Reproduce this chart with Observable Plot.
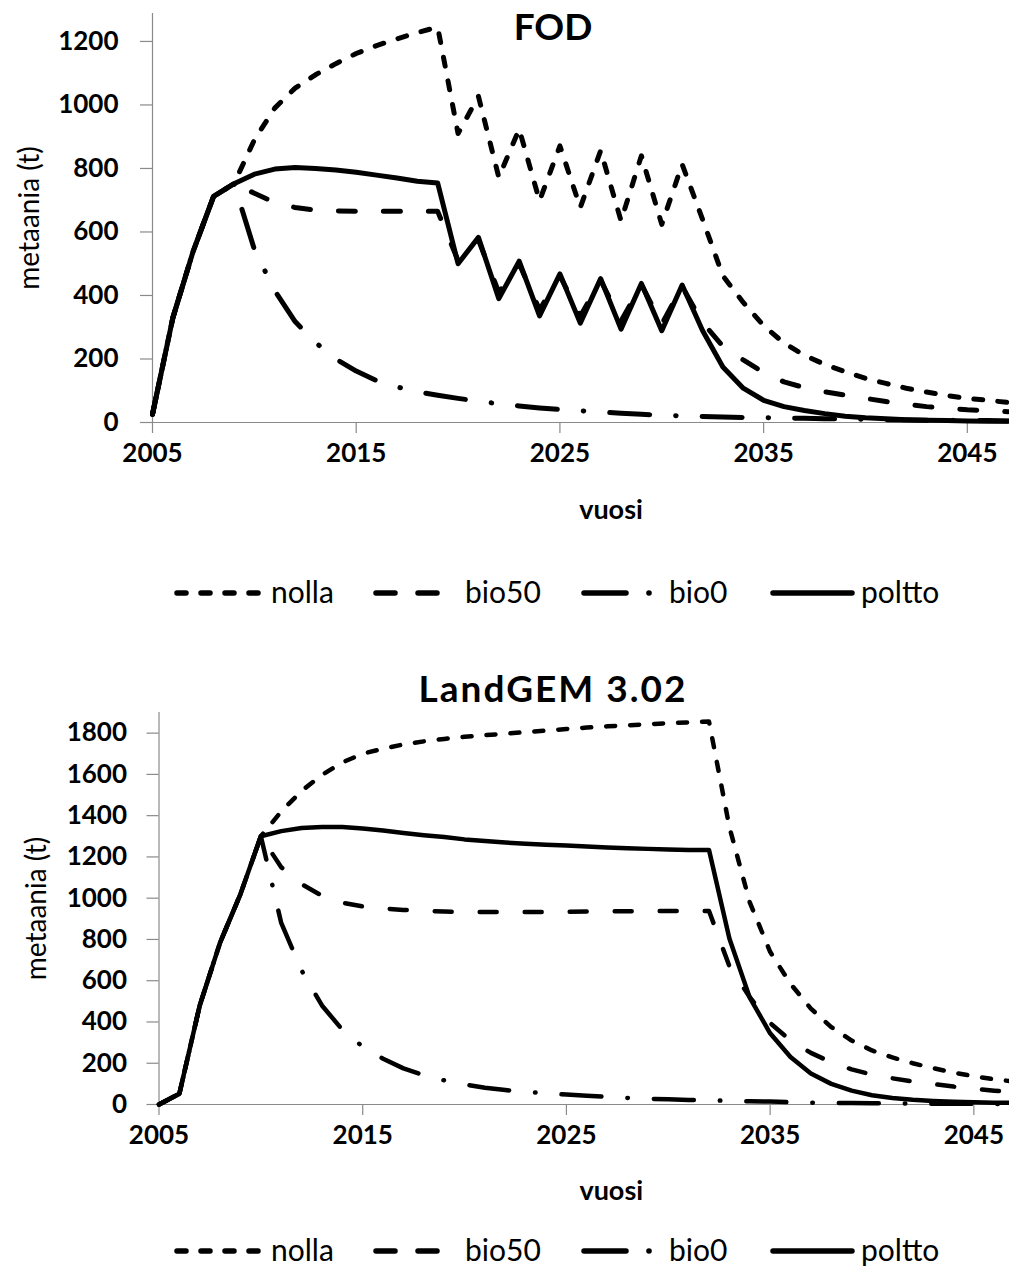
<!DOCTYPE html>
<html>
<head>
<meta charset="utf-8">
<script src="https://cdn.jsdelivr.net/npm/d3@7"></script>
<script src="https://cdn.jsdelivr.net/npm/@observablehq/plot@0.6"></script>
<style>
  html, body { margin: 0; padding: 0; background: #fff; }
  #page { position: relative; width: 1009px; height: 1269px; overflow: hidden; background: #fff; font-family: Lato, "Open Sans", sans-serif; }
  .abs { position: absolute; left: 0; }
</style>
</head>
<body>
<div id="page"></div>
<script>
// ---------- DATA ----------
const years = [2005,2006,2007,2008,2009,2010,2011,2012,2013,2014,2015,2016,2017,2018,2019,2020,
  2021,2022,2023,2024,2025,2026,2027,2028,2029,2030,2031,2032,2033,2034,2035,2036,2037,2038,2039,2040,
  2041,2042,2043,2044,2045,2046,2047];
const seriesNames = ["nolla", "bio50", "bio0", "poltto"];

// FOD (top chart), metaania (t)
const fodNolla  = [26,330,540,712,752,890,990,1053,1095,1130,1162,1187,1208,1228,1245,910,
  1027,772,924,698,871,677,856,635,840,624,813,640,462,378,305,250,212,183,160,139,
  123,108,96,85,76,70,63];
const fodBio50  = [26,330,540,712,752,722,693,677,669,666,665,665,665,665,665,510,
  575,410,500,355,462,335,448,320,434,310,428,315,240,197,157,128,110,97,86,76,
  66,57,50,45,40,37,34];
const fodBio0   = [26,330,540,712,752,545,415,318,252,200,162,132,112,97,86,76,
  67,59,52,46,41,37,33,29,26,23,21,19,17,16,15,14,13,12,11,10,
  9,8,7,7,6,6,5];
const fodPoltto = [26,330,540,712,752,782,798,803,800,795,788,779,770,760,754,500,
  583,390,508,336,468,313,453,294,438,289,433,290,175,108,70,50,38,28,20,15,
  12,9,7,6,5,4,4];

// LandGEM 3.02 (bottom chart), metaania (t)
const lgNolla  = [0,52,480,785,1020,1300,1420,1520,1597,1658,1700,1725,1745,1760,1772,1782,
  1790,1797,1805,1812,1820,1827,1833,1838,1843,1848,1852,1856,1345,980,740,585,465,375,310,262,
  228,200,176,155,137,122,111];
const lgBio50  = [0,52,480,785,1020,1300,1150,1068,1012,978,960,950,943,938,935,933,
  933,933,933,933,934,935,936,937,938,938,938,938,670,520,395,310,250,205,170,145,
  127,112,99,87,76,67,60];
const lgBio0   = [0,52,480,785,1020,1300,880,650,480,362,280,222,175,142,117,97,
  81,70,61,54,48,42,37,32,28,25,22,20,18,16,14,11,9,8,7,6,
  5,5,4,4,3,3,2];
const lgPoltto = [0,52,480,785,1020,1300,1325,1340,1345,1345,1338,1328,1316,1305,1296,1285,
  1277,1270,1264,1259,1255,1250,1246,1242,1239,1236,1234,1233,805,518,345,230,150,100,67,45,
  32,23,17,13,11,9,8];

const xTicks = [2005, 2015, 2025, 2035, 2045];
const fodYTicks = [0, 200, 400, 600, 800, 1000, 1200];
const lgYTicks = [0, 200, 400, 600, 800, 1000, 1200, 1400, 1600, 1800];
const titles = ["FOD", "LandGEM 3.02"];
const xLabel = "vuosi";
const yLabel = "metaania (t)";

(function () {
// ---------- STYLE ----------
const gray = "#8a8a8a";
const dashes = { nolla: "9,15", bio50: "17,28", bio0: "40,26,0.5,26", poltto: null };
const FONT = "Lato, 'Open Sans', sans-serif";

function rows(arrays) {
  const out = [];
  seriesNames.forEach((s, i) => {
    years.forEach((y, j) => out.push({ series: s, year: y, value: arrays[i][j] }));
  });
  return out;
}

function chart(cfg) {
  const data = rows(cfg.values);
  const lineMarks = seriesNames.map(s => Plot.lineY(data.filter(d => d.series === s), {
    x: "year", y: "value",
    stroke: "black", strokeWidth: cfg.lw,
    strokeDasharray: dashes[s] || undefined,
    strokeLinecap: "round", strokeLinejoin: "round"
  }));
  return Plot.plot({
    width: 1009, height: cfg.height,
    marginLeft: cfg.ml, marginRight: 0, marginTop: cfg.mt, marginBottom: cfg.mb,
    x: { domain: [2005, cfg.xMax] },
    y: { domain: [0, cfg.yMax] },
    style: { fontFamily: FONT, fontSize: "26px", fontWeight: "bold", color: "black", background: "white", overflow: "visible" },
    marks: [
      Plot.ruleY([0], { stroke: gray, strokeWidth: 1.2 }),
      Plot.ruleX([2005], { stroke: gray, strokeWidth: 1.2 }),
      Plot.axisX({ ticks: xTicks, tickFormat: d => String(d), tickSize: 11, tickPadding: 10, stroke: gray, strokeWidth: 1.2, fill: "black", label: null }),
      Plot.axisY({ ticks: cfg.yTicks, tickFormat: d => String(d), tickSize: 12, tickPadding: cfg.ypad, stroke: gray, strokeWidth: 1.2, fill: "black", label: null }),
      ...lineMarks,
      Plot.text([yLabel], { frameAnchor: "left", dx: cfg.ylabDx, rotate: -90, text: d => d, textAnchor: "middle", lineAnchor: "middle", fontSize: 28, fontWeight: "normal", fill: "black" }),
      Plot.text([xLabel], { frameAnchor: "bottom", dx: cfg.xlabDx, dy: cfg.xlabDy, text: d => d, textAnchor: "middle", lineAnchor: "middle", fontSize: 27, fontWeight: "bold", fill: "black" })
    ]
  });
}

const page = document.getElementById("page");

const topChart = chart({
  values: [fodNolla, fodBio50, fodBio0, fodPoltto],
  height: 530, ml: 152, mt: 13, mb: 108, xMax: 2047.07, yMax: 1288, yTicks: fodYTicks,
  lw: 5, ypad: 22, ylabDx: -122, xlabDx: 30, xlabDy: 88
});
topChart.classList.add("abs"); topChart.style.top = "0px";
page.appendChild(topChart);

const bottomChart = chart({
  values: [lgNolla, lgBio50, lgBio0, lgPoltto],
  height: 520, ml: 158.5, mt: 12, mb: 116, xMax: 2046.75, yMax: 1900, yTicks: lgYTicks,
  lw: 4.5, ypad: 20, ylabDx: -121.5, xlabDx: 27, xlabDy: 87
});
bottomChart.classList.add("abs"); bottomChart.style.top = "700px";
page.appendChild(bottomChart);

// ---------- Titles & legends overlay ----------
const ov = d3.create("svg").attr("width", 1009).attr("height", 1269)
  .attr("class", "abs").style("top", "0px").style("pointer-events", "none")
  .style("font-family", FONT);

ov.append("text").attr("x", 553).attr("y", 40).attr("text-anchor", "middle")
  .attr("font-size", 37).attr("font-weight", "bold").text(titles[0]);
ov.append("text").attr("x", 553).attr("y", 702).attr("text-anchor", "middle")
  .attr("font-size", 37).attr("font-weight", "bold").attr("letter-spacing", 2).text(titles[1]);

function legend(yLine, yBase) {
  const g = ov.append("g").attr("stroke", "black").attr("stroke-width", 5.5).attr("stroke-linecap", "round").attr("fill", "none");
  g.append("line").attr("x1", 177).attr("x2", 261).attr("y1", yLine).attr("y2", yLine).attr("stroke-dasharray", "9,15");
  g.append("line").attr("x1", 376).attr("x2", 437).attr("y1", yLine).attr("y2", yLine).attr("stroke-dasharray", "19,23");
  g.append("line").attr("x1", 584).attr("x2", 626).attr("y1", yLine).attr("y2", yLine);
  g.append("circle").attr("cx", 649).attr("cy", yLine).attr("r", 2.8).attr("fill", "black").attr("stroke", "none");
  g.append("line").attr("x1", 773).attr("x2", 852).attr("y1", yLine).attr("y2", yLine);
  const labels = [[271, "nolla"], [465, "bio50"], [669, "bio0"], [861, "poltto"]];
  labels.forEach(([x, t]) => ov.append("text").attr("x", x).attr("y", yBase)
    .attr("font-size", 30).attr("fill", "black").text(t));
}
legend(593, 603);
legend(1251, 1261);

page.appendChild(ov.node());
})();
</script>
</body>
</html>
